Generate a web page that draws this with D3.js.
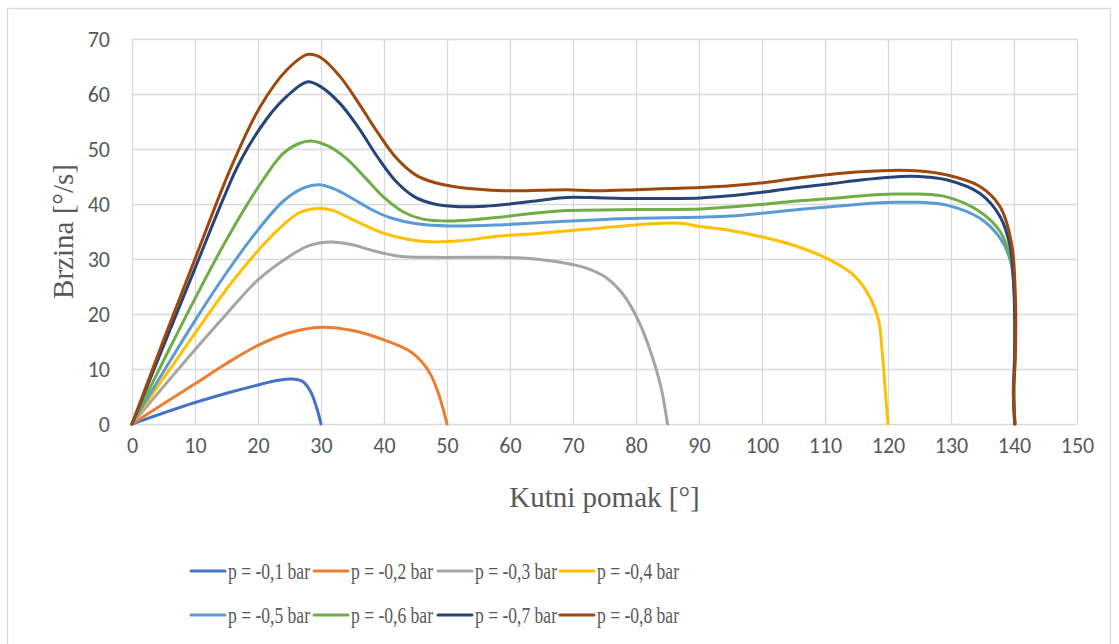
<!DOCTYPE html>
<html>
<head>
<meta charset="utf-8">
<script src="https://cdn.jsdelivr.net/npm/d3@7"></script>
<style>
  html, body { margin: 0; padding: 0; background: #ffffff; }
  svg { display: block; }
</style>
</head>
<body>
<svg id="chart" width="1119" height="644"></svg>
<script>
// ---------------- DATA ----------------
const seriesNames = ["p = -0,1 bar", "p = -0,2 bar", "p = -0,3 bar", "p = -0,4 bar",
                     "p = -0,5 bar", "p = -0,6 bar", "p = -0,7 bar", "p = -0,8 bar"];
const seriesColors = ["#4472C4", "#ED7D31", "#A5A5A5", "#FFC000",
                      "#5B9BD5", "#70AD47", "#264478", "#9E480E"];

const xTicks = [0, 10, 20, 30, 40, 50, 60, 70, 80, 90, 100, 110, 120, 130, 140, 150];
const yTicks = [0, 10, 20, 30, 40, 50, 60, 70];

// [kutni pomak (°), brzina (°/s)]
const p01 = [[0,0],[5,2],[10,3.9],[15,5.6],[20,7.1],[23,7.9],[25.3,8.2],[27,7.8],[28.3,6],[29.3,3],[30,0]];
const p02 = [[0,0],[5,3.7],[10,7.3],[15,11],[20,14.3],[25,16.6],[30,17.6],[35,17],[40,15.3],[44,13.3],
             [46,11.3],[47.5,8.8],[48.8,5],[50,0]];
const p03 = [[0,0],[5,6.8],[10,13.5],[15,20],[20,26.2],[25,30.5],[28,32.4],[31.6,33.1],[35,32.6],[38,31.6],
             [42.5,30.5],[47.8,30.3],[58.4,30.3],[64,30],[68,29.4],[72,28.4],[75,26.8],[78,23.5],
             [80.5,18.5],[82.5,12.5],[84,6.5],[85,0]];
const p04 = [[0,0],[5,8.3],[10,16.5],[15,24.5],[20,31.5],[24,36.2],[26.7,38.5],[29.8,39.2],[32,38.8],[34.6,37.4],
             [39.9,34.7],[44.1,33.5],[47.8,33.1],[52,33.3],[58.4,34.2],[64,34.6],[68,35],[74,35.6],[80,36.2],
             [84,36.5],[87,36.5],[90.2,35.9],[95,35.2],[99.7,34.1],[105,32.5],[110.3,30.1],[114.5,27.1],
             [117.1,23.1],[118.5,18.9],[119.1,12.9],[119.6,5.6],[120,0]];
const p05 = [[0,0],[5,9.5],[10,18.8],[15,27.5],[20,35.3],[24,40.5],[27,42.8],[29.7,43.5],[32,42.8],[35,41],
             [38,39],[41,37.5],[45.2,36.4],[50.5,36],[58.4,36.2],[68,36.8],[75,37.2],[80.6,37.4],[90.2,37.6],
             [95,37.8],[100,38.3],[105,38.9],[111,39.5],[116,40],[121,40.3],[125,40.3],[129.3,39.8],
             [134.6,37.4],[137.8,33.8],[139.4,29.8],[140,25],[140.1,15],[140,8],[140.1,0]];
const p06 = [[0,0],[5,11.5],[10,22.8],[15,33.5],[20,43],[24,49.2],[26.5,51],[28.4,51.45],[31,50.6],[34,48.3],
             [37,44.8],[40,41.2],[43,38.6],[46,37.3],[50.5,36.9],[58.4,37.6],[62,38.1],[69,38.8],[80.6,39],
             [90.2,39.1],[99.7,39.9],[105,40.5],[111,41],[116,41.5],[121,41.8],[125,41.8],[129.3,41.3],
             [134.6,38.6],[137.8,35],[139.4,30.4],[140,25.6],[140.1,12],[140,5],[140.1,0]];
const p07 = [[0,0],[5,14.2],[10,28.3],[14.4,40.7],[17.1,47.6],[21.4,55.5],[24.6,59.6],[27.8,62.2],[30,61.3],
             [33,58.3],[36,53.8],[39,48.5],[42,44],[45,41.2],[48,40],[52,39.5],[56,39.6],[60,40],[65,40.7],
             [69,41.2],[75,41.1],[80.6,41],[90.2,41.1],[95,41.5],[99.7,42.1],[105,42.9],[111,43.7],[116,44.4],
             [122,45],[125,45],[129.3,44.4],[134.6,41.9],[137.8,37.7],[139.4,32.2],[140,24],[140.1,12],
             [139.9,6],[140.1,0]];
const p08 = [[0,0],[5,15.2],[10,30],[13.6,40.7],[16,47.4],[20.3,57.6],[24.6,64.4],[27.9,67.2],[30,66.6],
             [33,63.2],[36,58.3],[39,53],[42,48.3],[45,45.3],[48,43.9],[52,43],[56,42.6],[60,42.4],[65,42.5],
             [69,42.6],[74,42.4],[80,42.6],[85,42.8],[90.2,43],[95,43.3],[99.7,43.8],[105,44.6],[110.3,45.3],
             [115,45.8],[120.3,46.1],[125,46],[129.3,45.3],[134.6,43.2],[137.8,39.5],[139.6,32.9],
             [140.2,23.8],[140.2,11.6],[139.9,5.6],[140.2,0]];
const seriesData = [p01, p02, p03, p04, p05, p06, p07, p08];

const xTitle = "Kutni pomak [°]";
const yTitle = "Brzina [°/s]";

// ---------------- LAYOUT ----------------
const svg = d3.select("#chart");
const W = 1119, H = 644;
const plot = { left: 132, right: 1077, top: 39, bottom: 424 };

svg.append("rect").attr("x", 0).attr("y", 0).attr("width", W).attr("height", H).attr("fill", "#fff");
svg.append("rect").attr("x", 7.5).attr("y", 8.5).attr("width", 1103).attr("height", 650)
   .attr("fill", "none").attr("stroke", "#d9d9d9").attr("stroke-width", 1.3);

const x = d3.scaleLinear().domain([0, 150]).range([plot.left, plot.right]);
const y = d3.scaleLinear().domain([0, 70]).range([plot.bottom, plot.top]);

const gridColor = "#d9d9d9";
const tickFont = "Carlito, Calibri, 'Open Sans', 'Liberation Sans', sans-serif";
const serif = "'Liberation Serif', 'Times New Roman', serif";

// grid + axes
const xAxis = d3.axisBottom(x).tickValues(xTicks).tickSize(-(plot.bottom - plot.top)).tickPadding(13)
  .tickFormat(d3.format("d"));
const gx = svg.append("g").attr("transform", `translate(0,${plot.bottom})`).call(xAxis);
const yAxis = d3.axisLeft(y).tickValues(yTicks).tickSize(-(plot.right - plot.left)).tickPadding(22)
  .tickFormat(d3.format("d"));
const gy = svg.append("g").attr("transform", `translate(${plot.left},0)`).call(yAxis);

[gx, gy].forEach(g => {
  g.select(".domain").remove();
  g.selectAll(".tick line").attr("stroke", gridColor).attr("stroke-width", 1.3);
  g.selectAll(".tick text").attr("fill", "#595959").style("font-family", tickFont).style("font-size", "22px");
});
gy.selectAll(".tick text").attr("dy", "0.35em");

// axis titles
svg.append("text").attr("x", (plot.left + plot.right) / 2).attr("y", 507)
  .attr("text-anchor", "middle").attr("fill", "#595959")
  .style("font-family", serif).style("font-size", "29px").text(xTitle);
svg.append("text").attr("transform", `translate(73,${(plot.top + plot.bottom) / 2}) rotate(-90)`)
  .attr("text-anchor", "middle").attr("fill", "#595959")
  .style("font-family", serif).style("font-size", "29px").text(yTitle);

// lines
const line = d3.line().x(d => x(d[0])).y(d => y(d[1])).curve(d3.curveCatmullRom.alpha(0.5));
const gLines = svg.append("g");
seriesData.forEach((data, i) => {
  gLines.append("path").datum(data).attr("d", line)
    .attr("fill", "none").attr("stroke", seriesColors[i]).attr("stroke-width", 3)
    .attr("stroke-linejoin", "round").attr("stroke-linecap", "round");
});

// legend
const legendX = [191, 314, 438, 560];
const legendY = [571, 615];
seriesNames.forEach((name, i) => {
  const cx = legendX[i % 4], cy = legendY[Math.floor(i / 4)];
  const g = svg.append("g");
  g.append("line").attr("x1", cx).attr("x2", cx + 34).attr("y1", cy).attr("y2", cy)
    .attr("stroke", seriesColors[i]).attr("stroke-width", 3).attr("stroke-linecap", "round");
  g.append("text").attr("x", cx + 37).attr("y", cy + 8)
    .attr("fill", "#595959").style("font-family", serif).style("font-size", "24px")
    .attr("textLength", 82).attr("lengthAdjust", "spacingAndGlyphs").text(name);
});
</script>
</body>
</html>
